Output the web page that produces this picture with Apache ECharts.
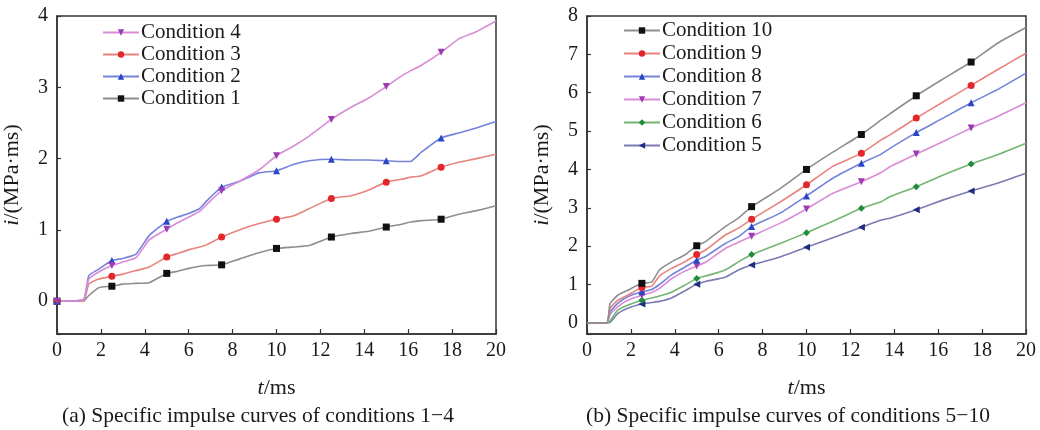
<!DOCTYPE html>
<html>
<head>
<meta charset="utf-8">
<script src="https://cdn.jsdelivr.net/npm/echarts@6/dist/echarts.min.js"></script>
<style>
html,body{margin:0;padding:0;background:#fff;}
#chart{width:1040px;height:430px;}
</style>
</head>
<body>
<div id="chart"></div>
<script>
// ---------- data: chart (a) ----------
const tA = [0, 1.2, 1.45, 1.9, 2.5, 3.0, 3.6, 4.2, 5.0, 5.5, 6.0, 6.5, 6.8, 7.5, 8.3, 9.2, 10, 10.8, 11.5, 12.5, 13.4, 14.2, 15, 15.7, 16.1, 16.6, 17.5, 18.3, 19.1, 20];
const cond1 = [0, 0, 0.08, 0.19, 0.21, 0.24, 0.25, 0.26, 0.39, 0.42, 0.46, 0.49, 0.50, 0.51, 0.59, 0.68, 0.74, 0.76, 0.78, 0.90, 0.95, 0.98, 1.04, 1.08, 1.11, 1.13, 1.15, 1.22, 1.27, 1.34];
const cond2 = [0, 0.02, 0.36, 0.45, 0.57, 0.60, 0.66, 0.92, 1.12, 1.18, 1.23, 1.30, 1.40, 1.60, 1.68, 1.80, 1.83, 1.92, 1.97, 1.99, 1.98, 1.98, 1.97, 1.96, 1.96, 2.09, 2.29, 2.36, 2.43, 2.52];
const cond3 = [0, 0, 0.24, 0.31, 0.35, 0.38, 0.43, 0.48, 0.62, 0.67, 0.72, 0.76, 0.79, 0.90, 1.00, 1.09, 1.15, 1.20, 1.30, 1.44, 1.48, 1.56, 1.67, 1.71, 1.74, 1.76, 1.88, 1.95, 2.00, 2.06];
const cond4 = [0, 0.02, 0.31, 0.41, 0.50, 0.55, 0.61, 0.86, 1.01, 1.10, 1.18, 1.26, 1.35, 1.55, 1.68, 1.84, 2.04, 2.18, 2.32, 2.55, 2.72, 2.85, 3.01, 3.16, 3.23, 3.31, 3.49, 3.68, 3.78, 3.93];
const markA = [0, 2.5, 5, 7.5, 10, 12.5, 15, 17.5];

// ---------- data: chart (b) ----------
const tB = [0, 0.9, 1.05, 1.4, 1.85, 2.5, 2.95, 3.3, 3.85, 4.45, 5, 5.4, 6.3, 6.9, 7.5, 8.8, 10, 11.2, 12.5, 13.4, 13.8, 15, 16.2, 17.5, 18.7, 20];
const cond10 = [0, 0, 0.50, 0.72, 0.85, 1.03, 1.07, 1.38, 1.59, 1.77, 2.01, 2.12, 2.51, 2.73, 3.03, 3.50, 4.00, 4.45, 4.91, 5.29, 5.45, 5.92, 6.35, 6.80, 7.29, 7.70];
const cond9  = [0, 0, 0.38, 0.59, 0.72, 0.92, 0.96, 1.22, 1.42, 1.59, 1.78, 1.90, 2.29, 2.47, 2.70, 3.15, 3.60, 4.08, 4.42, 4.77, 4.90, 5.34, 5.75, 6.19, 6.60, 7.03];
const cond8  = [0, 0, 0.28, 0.51, 0.68, 0.81, 0.87, 1.00, 1.25, 1.45, 1.64, 1.73, 2.07, 2.25, 2.51, 2.86, 3.31, 3.77, 4.16, 4.40, 4.55, 4.96, 5.33, 5.74, 6.08, 6.51];
const cond7  = [0, 0, 0.22, 0.42, 0.59, 0.72, 0.79, 0.90, 1.15, 1.35, 1.48, 1.58, 1.94, 2.10, 2.26, 2.60, 2.97, 3.38, 3.68, 3.92, 4.07, 4.40, 4.72, 5.08, 5.38, 5.74];
const cond6  = [0, 0, 0.05, 0.33, 0.46, 0.59, 0.65, 0.70, 0.80, 0.98, 1.16, 1.22, 1.38, 1.59, 1.78, 2.07, 2.35, 2.65, 2.99, 3.16, 3.29, 3.55, 3.85, 4.14, 4.38, 4.68];
const cond5  = [0, 0, 0.01, 0.24, 0.38, 0.49, 0.53, 0.56, 0.65, 0.83, 1.01, 1.08, 1.19, 1.38, 1.51, 1.72, 1.97, 2.22, 2.49, 2.68, 2.73, 2.95, 3.20, 3.44, 3.64, 3.90];
const markB = [2.5, 5, 7.5, 10, 12.5, 15, 17.5];

const xTicks = [0, 2, 4, 6, 8, 10, 12, 14, 16, 18, 20];
const yTicksA = [0, 1, 2, 3, 4];
const yTicksB = [0, 1, 2, 3, 4, 5, 6, 7, 8];

const legendA = ['Condition 4', 'Condition 3', 'Condition 2', 'Condition 1'];
const legendB = ['Condition 10', 'Condition 9', 'Condition 8', 'Condition 7', 'Condition 6', 'Condition 5'];

const captionA = '(a) Specific impulse curves of conditions 1\u22124';
const captionB = '(b) Specific impulse curves of conditions 5\u221210';

// ---------- build ----------
const FONT = "'Liberation Serif','Times New Roman',serif";
const TXT = '#1a1a1a';
const AX = '#333';

function buildData(ts, vs, marks) {
  return ts.map((t, i) => {
    const item = { value: [t, vs[i]] };
    if (marks.indexOf(t) < 0) item.symbol = 'none';
    return item;
  });
}

function mkSeries(name, ts, vs, marks, idx, lineColor, markColor, symbol, rot) {
  return {
    name, type: 'line', xAxisIndex: idx, yAxisIndex: idx,
    data: buildData(ts, vs, marks),
    symbol, symbolSize: 7, symbolRotate: rot || 0,
    showAllSymbol: true,
    lineStyle: { color: lineColor, width: 1.6 },
    itemStyle: { color: markColor },
    smooth: 0.15,
    animation: false,
    z: 3
  };
}

const C = {
  gray: ['#8e8e8e', '#111111'],
  red: ['#e8837d', '#e3262c'],
  blue: ['#7483da', '#2a46c6'],
  purple: ['#d98bd8', '#9b3cb2'],
  green: ['#72b672', '#1f8e3c'],
  navy: ['#7b7bb2', '#1f2a82']
};

function xAxis(idx) {
  return {
    gridIndex: idx, type: 'value', min: 0, max: 20, interval: 2,
    name: '{it|t}/ms', nameLocation: 'middle', nameGap: 43,
    nameTextStyle: { fontFamily: FONT, fontSize: 22, color: TXT,
      rich: { it: { fontStyle: 'italic', fontFamily: FONT, fontSize: 22, color: TXT } } },
    axisLine: { show: true, onZero: false, lineStyle: { color: AX, width: 1.5 } },
    axisTick: { show: true, inside: true, length: 5, lineStyle: { color: AX, width: 1.2 } },
    axisLabel: { fontFamily: FONT, fontSize: 20, color: TXT, margin: 7,
      formatter: v => (xTicks.indexOf(v) >= 0 ? String(v) : '') },
    splitLine: { show: false }
  };
}

function yAxis(idx, min, max, ticks, split) {
  return {
    gridIndex: idx, type: 'value', min, max, splitNumber: split,
    name: '{it|i}/(MPa\u00b7ms)', nameLocation: 'middle', nameGap: 34,
    nameTextStyle: { fontFamily: FONT, fontSize: 22, color: TXT,
      rich: { it: { fontStyle: 'italic', fontFamily: FONT, fontSize: 22, color: TXT } } },
    axisLine: { show: true, onZero: false, lineStyle: { color: AX, width: 1.5 } },
    axisTick: { show: true, inside: true, length: 4, lineStyle: { color: AX, width: 1.2 } },
    axisLabel: { fontFamily: FONT, fontSize: 20, color: TXT, margin: 9,
      formatter: v => (ticks.indexOf(Math.round(v * 1000) / 1000) >= 0 ? String(Math.round(v)) : '') },
    splitLine: { show: false }
  };
}

function legend(left, top, data, gap) {
  return {
    left, top, orient: 'vertical', data, itemWidth: 36, itemHeight: 8, itemGap: gap,
    textStyle: { fontFamily: FONT, fontSize: 21, color: TXT, padding: [0, 0, 0, -3] },
    backgroundColor: 'transparent', padding: 0
  };
}

const option = {
  animation: false,
  backgroundColor: '#fff',
  grid: [
    { left: 57, right: 544, top: 16, bottom: 96, show: true, borderColor: AX, borderWidth: 1.5, backgroundColor: 'transparent' },
    { left: 587, right: 14, top: 16, bottom: 96, show: true, borderColor: AX, borderWidth: 1.5, backgroundColor: 'transparent' }
  ],
  xAxis: [xAxis(0), xAxis(1)],
  yAxis: [yAxis(0, -0.46, 4, yTicksA, 5), yAxis(1, -0.29, 8, yTicksB, 8)],
  legend: [legend(102, 22, legendA, 1), legend(623, 20, legendB, 2)],
  series: [
    mkSeries('Condition 1', tA, cond1, markA, 0, C.gray[0], C.gray[1], 'rect'),
    mkSeries('Condition 3', tA, cond3, markA, 0, C.red[0], C.red[1], 'circle'),
    mkSeries('Condition 2', tA, cond2, markA, 0, C.blue[0], C.blue[1], 'triangle'),
    mkSeries('Condition 4', tA, cond4, markA, 0, C.purple[0], C.purple[1], 'triangle', 180),
    mkSeries('Condition 5', tB, cond5, markB, 1, C.navy[0], C.navy[1], 'triangle', 90),
    mkSeries('Condition 6', tB, cond6, markB, 1, C.green[0], C.green[1], 'diamond'),
    mkSeries('Condition 7', tB, cond7, markB, 1, C.purple[0], C.purple[1], 'triangle', 180),
    mkSeries('Condition 8', tB, cond8, markB, 1, C.blue[0], C.blue[1], 'triangle'),
    mkSeries('Condition 9', tB, cond9, markB, 1, C.red[0], C.red[1], 'circle'),
    mkSeries('Condition 10', tB, cond10, markB, 1, C.gray[0], C.gray[1], 'rect')
  ],
  graphic: [
    { type: 'text', x: 258, y: 416, style: { text: captionA, font: "21.5px " + FONT, fill: TXT, align: 'center', verticalAlign: 'middle' } },
    { type: 'text', x: 788, y: 416, style: { text: captionB, font: "21.5px " + FONT, fill: TXT, align: 'center', verticalAlign: 'middle' } }
  ]
};

const chart = echarts.init(document.getElementById('chart'), null, { renderer: 'canvas' });
chart.setOption(option);
</script>
</body>
</html>
